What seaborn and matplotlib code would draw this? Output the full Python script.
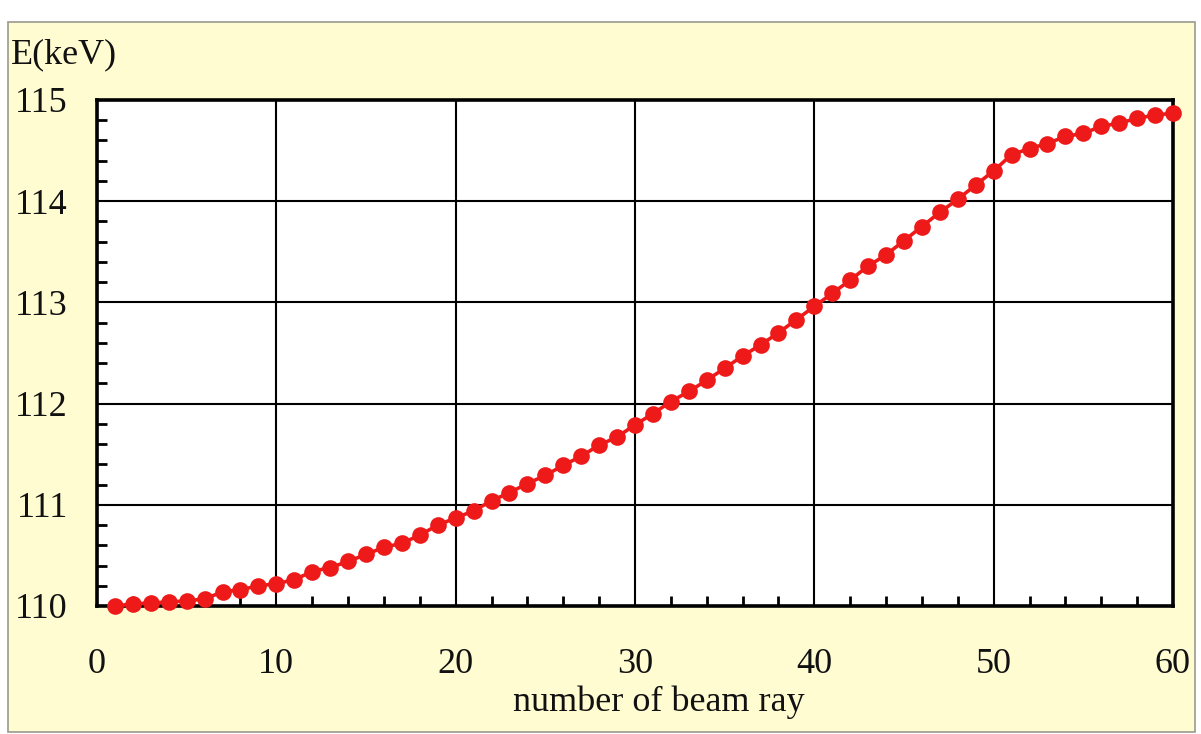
import numpy as np
import pandas as pd
import matplotlib
matplotlib.use("Agg")
import matplotlib.pyplot as plt
from matplotlib.patches import Rectangle
from matplotlib.ticker import MultipleLocator
import seaborn as sns

# Beam ray index and the corresponding energy (keV)
ray_number = list(range(1, 61))
energy_kev = [
    110.00, 110.02, 110.03, 110.04, 110.05, 110.07, 110.14, 110.16, 110.20, 110.22,
    110.26, 110.34, 110.38, 110.44, 110.51, 110.58, 110.62, 110.70, 110.80, 110.87,
    110.94, 111.04, 111.12, 111.21, 111.29, 111.39, 111.48, 111.59, 111.67, 111.79,
    111.90, 112.02, 112.12, 112.23, 112.35, 112.47, 112.58, 112.70, 112.83, 112.96,
    113.09, 113.22, 113.36, 113.47, 113.61, 113.75, 113.89, 114.02, 114.16, 114.30,
    114.46, 114.52, 114.57, 114.64, 114.67, 114.74, 114.77, 114.82, 114.85, 114.87,
]
x_ticks = [0, 10, 20, 30, 40, 50, 60]
y_ticks = [110, 111, 112, 113, 114, 115]

sns.set_theme(style="white")
plt.rcParams["font.family"] = ["Liberation Serif", "DejaVu Serif"]

df = pd.DataFrame({"ray": ray_number, "energy": energy_kev})

fig = plt.figure(figsize=(12.01, 7.34), dpi=100)
fig.patch.set_facecolor("white")

# pale yellow panel behind the chart
panel = Rectangle((8 / 1201, 0.003), (1195 - 8) / 1201, (733 - 21) / 734 - 0.003,
                  transform=fig.transFigure, facecolor="#FFFCD2",
                  edgecolor="#9A9A90", linewidth=1.2, zorder=-5)
fig.patches.append(panel)

ax = fig.add_axes([97 / 1201, 1 - 606 / 734, (1173 - 97) / 1201, (606 - 100) / 734])
ax.set_facecolor("white")

sns.lineplot(data=df, x="ray", y="energy", ax=ax, color="#EE1A1A",
             linewidth=2.6, marker="o", markersize=12,
             markeredgecolor="#EE1A1A", markeredgewidth=0, zorder=3,
             clip_on=False)

ax.set_xlim(0, 60)
ax.set_ylim(110, 115)
ax.set_xticks(x_ticks)
ax.set_yticks(y_ticks)
ax.set_xticklabels([str(t) for t in x_ticks])
ax.set_yticklabels([str(t) for t in y_ticks])
ax.xaxis.set_minor_locator(MultipleLocator(2))
ax.yaxis.set_minor_locator(MultipleLocator(0.2))

ax.grid(True, which="major", color="black", linewidth=1.5)
ax.set_axisbelow(True)

for side in ["left", "bottom", "top", "right"]:
    ax.spines[side].set_visible(True)
    ax.spines[side].set_color("black")
    ax.spines[side].set_linewidth(2.6)

ax.tick_params(which="major", direction="out", length=9, width=2.6,
               color="black", labelsize=26, labelcolor="#111111")
ax.tick_params(axis="x", which="major", pad=21)
ax.tick_params(axis="y", which="major", pad=12)
ax.tick_params(which="minor", direction="in", length=7, width=2.0,
               color="black", bottom=True, left=True)
ax.tick_params(top=False, right=False, which="both")

ax.set_xlabel("number of beam ray", fontsize=26, color="#111111")
ax.xaxis.set_label_coords(0.522, -0.19)
ax.xaxis.label.set_verticalalignment("center")

ax.set_ylabel("E(keV)", fontsize=26, color="#111111", rotation=0)
ax.yaxis.set_label_coords(-0.080, 1.09)
ax.yaxis.label.set_horizontalalignment("left")
ax.yaxis.label.set_verticalalignment("center")

fig.savefig("out.png", dpi=100, facecolor=fig.get_facecolor())
